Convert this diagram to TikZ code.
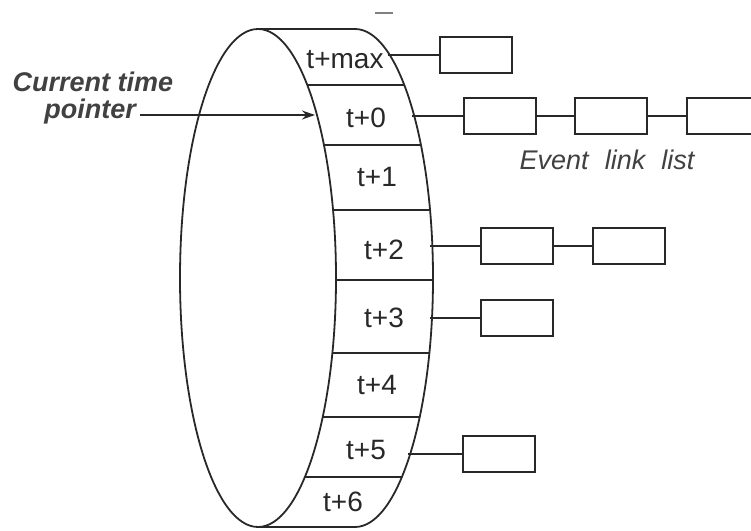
\documentclass[tikz,border=0pt]{standalone}
\usepackage{fontspec}
\setmainfont{Liberation Sans}
\usetikzlibrary{arrows.meta,calc}
\definecolor{ink}{RGB}{40,40,40}
\definecolor{softink}{RGB}{65,65,65}
\begin{document}
\begin{tikzpicture}[x=1bp,y=-1bp,
  rim/.style={draw=ink, line width=1.8bp},
  slotlabel/.style={font=\fontsize{28bp}{30bp}\selectfont, text=ink, inner sep=0pt},
  evbox/.style={draw=ink, line width=1.8bp, minimum width=72bp, minimum height=36bp, inner sep=0pt},
  note/.style={font=\itshape\fontsize{27bp}{29bp}\selectfont, text=softink, inner sep=0pt},
  pointernote/.style={note, font=\bfseries\itshape\fontsize{27bp}{29bp}\selectfont},
  wire/.style={draw=ink, line width=1.8bp}
]
\useasboundingbox (0,0) rectangle (751,531);
\clip (0,0) rectangle (751,531);

% drum geometry: front face centre, radii and depth of the wheel
\def\cx{258}\def\cy{278}\def\rx{78}\def\ry{249}\def\dx{97}

% front face
\draw[rim] (\cx,\cy) ellipse [x radius=\rx, y radius=\ry];
% visible rim of the back face, joined to the front face top and bottom
\draw[rim] (\cx,\cy-\ry) -- (\cx+\dx,\cy-\ry)
  arc[start angle=-90, end angle=90, x radius=\rx, y radius=\ry]
  -- (\cx,\cy+\ry);

% slot dividers across the rim
\foreach \yy in {85,145,210,280,353,417,477}{
  \pgfmathsetmacro\xf{\cx+\rx*sqrt(1-((\yy-\cy)/\ry)^2)}
  \draw[rim] (\xf,\yy) -- (\xf+\dx,\yy);
}

% slot labels
\node[slotlabel] (smax) at (345,60)  {t+max};
\node[slotlabel] (s0)   at (366,118) {t+0};
\node[slotlabel] (s1)   at (377,177) {t+1};
\node[slotlabel] (s2)   at (384,250) {t+2};
\node[slotlabel] (s3)   at (384,318) {t+3};
\node[slotlabel] (s4)   at (377,385) {t+4};
\node[slotlabel] (s5)   at (366,450) {t+5};
\node[slotlabel] (s6)   at (343,502) {t+6};

% attachment points on the back rim
\foreach \yy/\nm in {55/emax,116/e0,246/e2,318/e3,454/e5}{
  \pgfmathsetmacro\xb{\cx+\dx+\rx*sqrt(1-((\yy-\cy)/\ry)^2)}
  \coordinate (\nm) at (\xb-2,\yy);
}
% arrow target on the front face
\pgfmathsetmacro\xt{\cx+\rx*sqrt(1-((115-\cy)/\ry)^2)}
\coordinate (ptip) at (\xt-2,115);

% event lists
\node[evbox] (bmax) at (476,55) {};
\node[evbox] (b0a)  at (500,116) {};
\node[evbox] (b0b)  at (611,116) {};
\node[evbox] (b0c)  at (723,116) {};
\node[evbox] (b2a)  at (517,246) {};
\node[evbox] (b2b)  at (629,246) {};
\node[evbox] (b3)   at (517,318) {};
\node[evbox] (b5)   at (499,454) {};

\draw[wire] (emax) -- (bmax.west);
\draw[wire] (e0) -- (b0a.west);
\draw[wire] (b0a) -- (b0b);
\draw[wire] (b0b) -- (b0c);
\draw[wire] (e2) -- (b2a.west);
\draw[wire] (b2a) -- (b2b);
\draw[wire] (e3) -- (b3.west);
\draw[wire] (e5) -- (b5.west);

\node[note] (ell) at (607,160) {Event\hspace{0.6em}link\hspace{0.6em}list};

% current time pointer
\node[pointernote] (cur) at (93,82) {Current time};
\node[pointernote, anchor=east] (ptr) at (136,112) {pointer};
\coordinate (ptail) at (140,115);
\draw[wire, -{Stealth[length=13bp, width=9bp]}] (ptail) -- (ptip);

% small stroke above the drum
\coordinate (dashl) at (375,13);
\coordinate (dashr) at (393,13);
\draw[draw=gray, line width=1.8bp] (dashl) -- (dashr);
\end{tikzpicture}
\end{document}
